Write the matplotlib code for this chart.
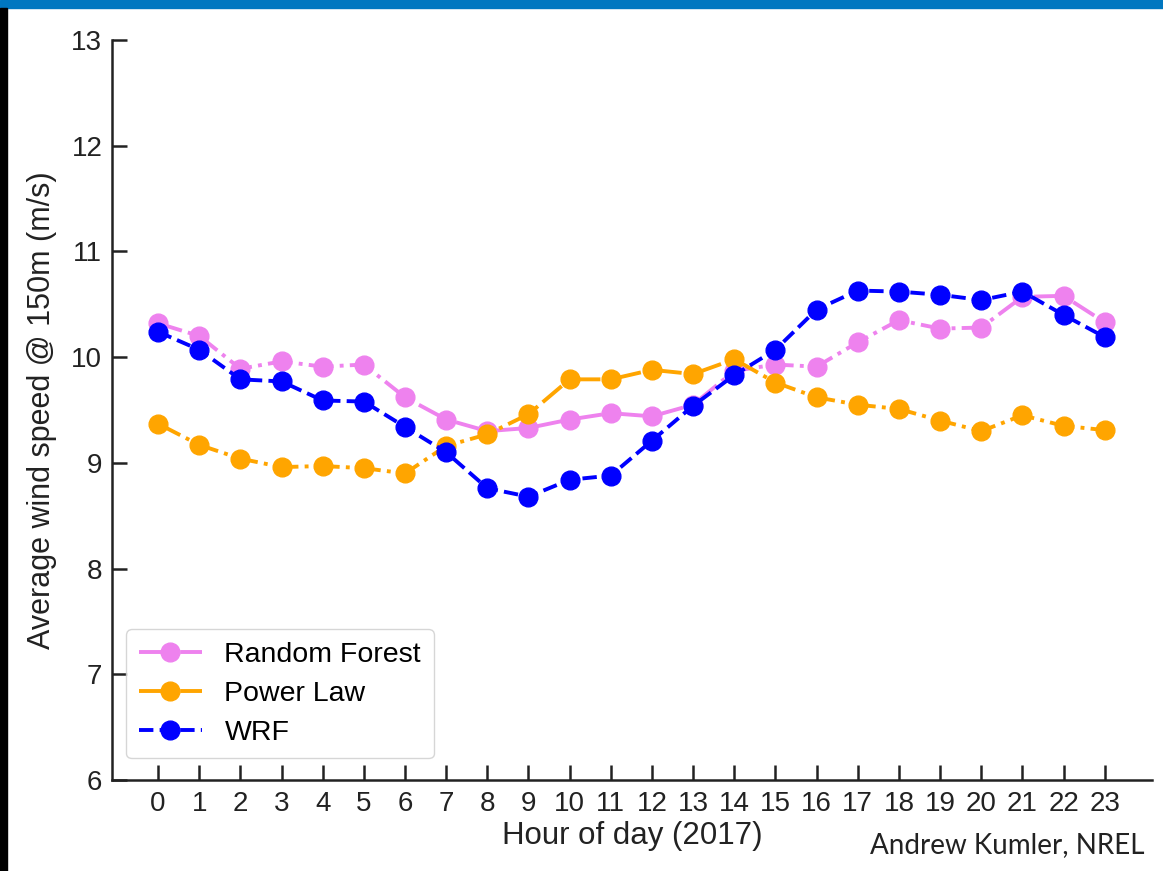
import matplotlib.pyplot as plt
import numpy as np

plt.rcParams['font.family'] = ['Liberation Sans', 'DejaVu Sans']

hours = list(range(24))
random_forest = [10.32, 10.20, 9.89, 9.96, 9.91, 9.93, 9.62, 9.41, 9.30, 9.33,
                 9.41, 9.47, 9.44, 9.55, 9.87, 9.93, 9.91, 10.14, 10.35, 10.27,
                 10.28, 10.57, 10.58, 10.33]
power_law = [9.37, 9.17, 9.04, 8.96, 8.97, 8.95, 8.90, 9.16, 9.27, 9.46,
             9.79, 9.79, 9.88, 9.84, 9.98, 9.76, 9.62, 9.55, 9.51, 9.40,
             9.30, 9.45, 9.35, 9.31]
wrf = [10.24, 10.07, 9.79, 9.77, 9.59, 9.58, 9.34, 9.10, 8.76, 8.68,
       8.84, 8.88, 9.21, 9.54, 9.83, 10.07, 10.45, 10.63, 10.62, 10.59,
       10.54, 10.62, 10.40, 10.19]

fig = plt.figure(figsize=(11.63, 8.71), dpi=100)

# slide decoration: blue bar on top, black bar on the left
fig.patches.append(plt.Rectangle((0, 1 - 8 / 871), 1, 8 / 871, transform=fig.transFigure,
                                 color='#0077C0', zorder=0))
fig.patches.append(plt.Rectangle((0, 0), 7 / 1163, 1 - 8 / 871, transform=fig.transFigure,
                                 color='black', zorder=0))

ax = fig.add_axes([112 / 1163, 1 - 780 / 871, (1152 - 112) / 1163, 740 / 871])

ax.plot(hours, random_forest, '-.', color='violet', lw=2.8, marker='o', ms=13.5,
        label='Random Forest')
ax.plot(hours, power_law, '-.', color='orange', lw=2.8, marker='o', ms=13.5,
        label='Power Law')
ax.plot(hours, wrf, '--', color='blue', lw=2.8, marker='o', ms=13.5, label='WRF')

ax.set_xlim(-1.12, 24.15)
ax.set_ylim(6, 13)
ax.set_xticks(hours)
ax.set_yticks(range(6, 14))

for s in ['top', 'right']:
    ax.spines[s].set_visible(False)
for s in ['left', 'bottom']:
    ax.spines[s].set_linewidth(1.8)
    ax.spines[s].set_color('#222222')

ax.tick_params(direction='in', length=11, width=1.8, labelsize=20, colors='#222222',
               pad=7)
ax.tick_params(axis='x', pad=8)

ax.set_xlabel('Hour of day (2017)', fontsize=22.5, color='#222222', labelpad=3)
ax.set_ylabel('Average wind speed @ 150m (m/s)', fontsize=22, color='#222222',
              labelpad=10)

ax.legend(loc='lower left', fontsize=20.5, frameon=True, handlelength=2.2,
          borderpad=0.45, labelspacing=0.45, bbox_to_anchor=(0.0, 0.01),
          edgecolor='#cccccc')

fig.text(1145 / 1163, 1 - 845 / 871, 'Andrew Kumler, NREL', family=['Lato', 'DejaVu Sans'],
         fontsize=20, ha='right', va='center', color='#222222')

fig.savefig('out.png', dpi=100)
